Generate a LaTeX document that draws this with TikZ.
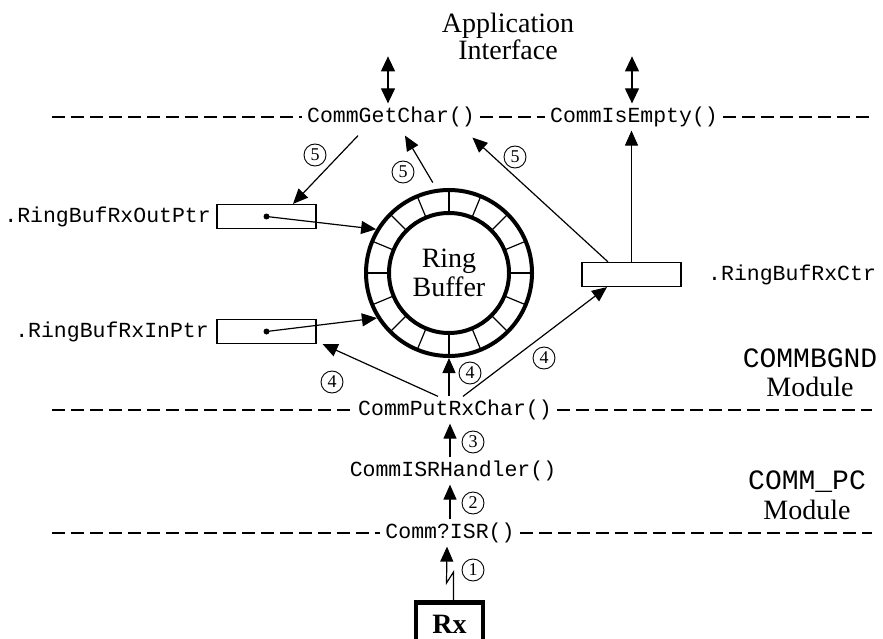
\documentclass[tikz,border=0pt]{standalone}
\usepackage{fontspec}
\setmainfont{Liberation Serif}
\setmonofont{Liberation Mono}
\usetikzlibrary{arrows.meta, positioning}

\begin{document}
\begin{tikzpicture}[x=1pt, y=-1pt, line width=1.2pt,
    fn/.style={font=\ttfamily\fontsize{21.5}{24}\selectfont, inner xsep=5pt, inner ysep=3pt},
    big/.style={font=\fontsize{28}{27}\selectfont},
    bigtt/.style={font=\ttfamily\fontsize{28}{28}\selectfont, inner sep=0pt},
    ptr/.style={draw, minimum width=99pt, minimum height=24pt, inner sep=0pt},
    num/.style={circle, draw, line width=0.9pt, inner sep=0pt, minimum size=22pt, font=\fontsize{18}{18}\selectfont},
    arr/.style={-{Triangle[length=15pt,width=13pt]}},
    dbl/.style={{Triangle[length=15pt,width=14pt]}-{Triangle[length=15pt,width=14pt]}},
    sep/.style={dash pattern=on 13pt off 6pt}]
    \useasboundingbox (0,0) rectangle (883,639);

    \node[big, align=center] (api) at (508,36) {Application\\Interface};

    \node[fn] (getc) at (391,117) {CommGetChar()};
    \node[fn] (isempty) at (634,117) {CommIsEmpty()};
    \node[fn] (putrx) at (455,410) {CommPutRxChar()};
    \node[fn] (isrh) at (453,471) {CommISRHandler()};
    \node[fn] (isr) at (450,533) {Comm?ISR()};

    \coordinate (l1w) at (52,117);
    \coordinate (l1e) at (872,117);
    \coordinate (l2w) at (52,410);
    \coordinate (l2e) at (872,410);
    \coordinate (l3w) at (52,533);
    \coordinate (l3e) at (872,533);
    \draw[sep] (l1w) -- (getc);
    \draw[sep] (getc) -- (isempty);
    \draw[sep] (isempty) -- (l1e);
    \draw[sep] (l2w) -- (putrx);
    \draw[sep] (putrx) -- (l2e);
    \draw[sep] (l3w) -- (isr);
    \draw[sep] (isr) -- (l3e);

    \node[circle, draw, line width=4pt, minimum size=166pt] (ring) at (449,273) {};
    \node[circle, draw, line width=4pt, minimum size=120pt, big, align=center, font=\fontsize{28}{29}\selectfont] (core) at (ring) {Ring\\Buffer};
    \foreach \a in {0,22.5,...,337.5}
        \draw (ring.center) ++(\a:60pt) -- ++(\a:23pt);

    \node[ptr] (outp) at (266.5,216.5) {};
    \node[ptr] (inp) at (266.5,331.5) {};
    \node[ptr] (ctr) at (631.5,274.5) {};
    \node[fn, inner sep=0pt, left=5pt of outp] (outlbl) {.RingBufRxOutPtr};
    \node[fn, inner sep=0pt, left=7pt of inp] (inlbl) {.RingBufRxInPtr};
    \node[fn, inner sep=0pt, right=26pt of ctr] (ctrlbl) {.RingBufRxCtr};
    \fill (outp.center) circle[radius=3pt];
    \fill (inp.center) circle[radius=3pt];
    \draw[arr] (outp.center) -- (ring.149);
    \draw[arr] (inp.center) -- (ring.212);

    \node[draw, line width=4.5pt, anchor=north, inner sep=0pt, minimum width=67pt, text height=31pt, text depth=30pt, font=\fontsize{28}{28}\selectfont\bfseries] (rx) at (449.5,600) {Rx};

    \node[bigtt] (bgnd) at (810,358) {COMMBGND};
    \node[big, inner sep=0pt, below=8pt of bgnd] (bgndmod) {Module};
    \node[bigtt] (commpc) at (807,482) {COMM\_PC};
    \node[big, inner sep=0pt, below=6pt of commpc] (pcmod) {Module};

    \node[num] (c5a) at (315,155) {5};
    \node[num] (c5b) at (403,172) {5};
    \node[num] (c5c) at (515,157) {5};
    \node[num] (c4a) at (332,382) {4};
    \node[num] (c4b) at (470,373) {4};
    \node[num] (c4c) at (544,358) {4};
    \node[num] (c3) at (473,442) {3};
    \node[num] (c2) at (473,503) {2};
    \node[num] (c1) at (473,570) {1};

    \draw[dbl] ([xshift=-3pt]getc.north) -- ++(0,-47);
    \draw[dbl] ([xshift=-2pt]isempty.north) -- ++(0,-47);

    \draw[arr] ([xshift=4pt]rx.north) -- ++(0,-28) -- ++(-7,11) -- ([xshift=-3pt]isr.south);
    \draw[arr] (isr.north) -- (isrh.south -| isr.north);
    \draw[arr] (isrh.north -| isr.north) -- (putrx.south -| isr.north);
    \draw[arr] (putrx.north -| ring.south) -- (ring.south);
    \draw[arr] ([xshift=-17pt]putrx.north) -- ([xshift=6pt]inp.south east);
    \draw[arr] ([xshift=8pt]putrx.north) -- ([xshift=-24.5pt]ctr.south);

    \draw[arr] ([xshift=-33pt,yshift=-5pt]getc.south) -- ([xshift=26.5pt]outp.north);
    \draw[arr] ([yshift=7pt]ring.101) -- ([xshift=14pt,yshift=-5pt]getc.south);
    \draw[arr] ([xshift=-23.5pt]ctr.north) -- ([xshift=-8pt,yshift=-7pt]getc.south east);
    \draw[arr] (ctr.north) -- (ctr.north |- isempty.south);
\end{tikzpicture}
\end{document}
